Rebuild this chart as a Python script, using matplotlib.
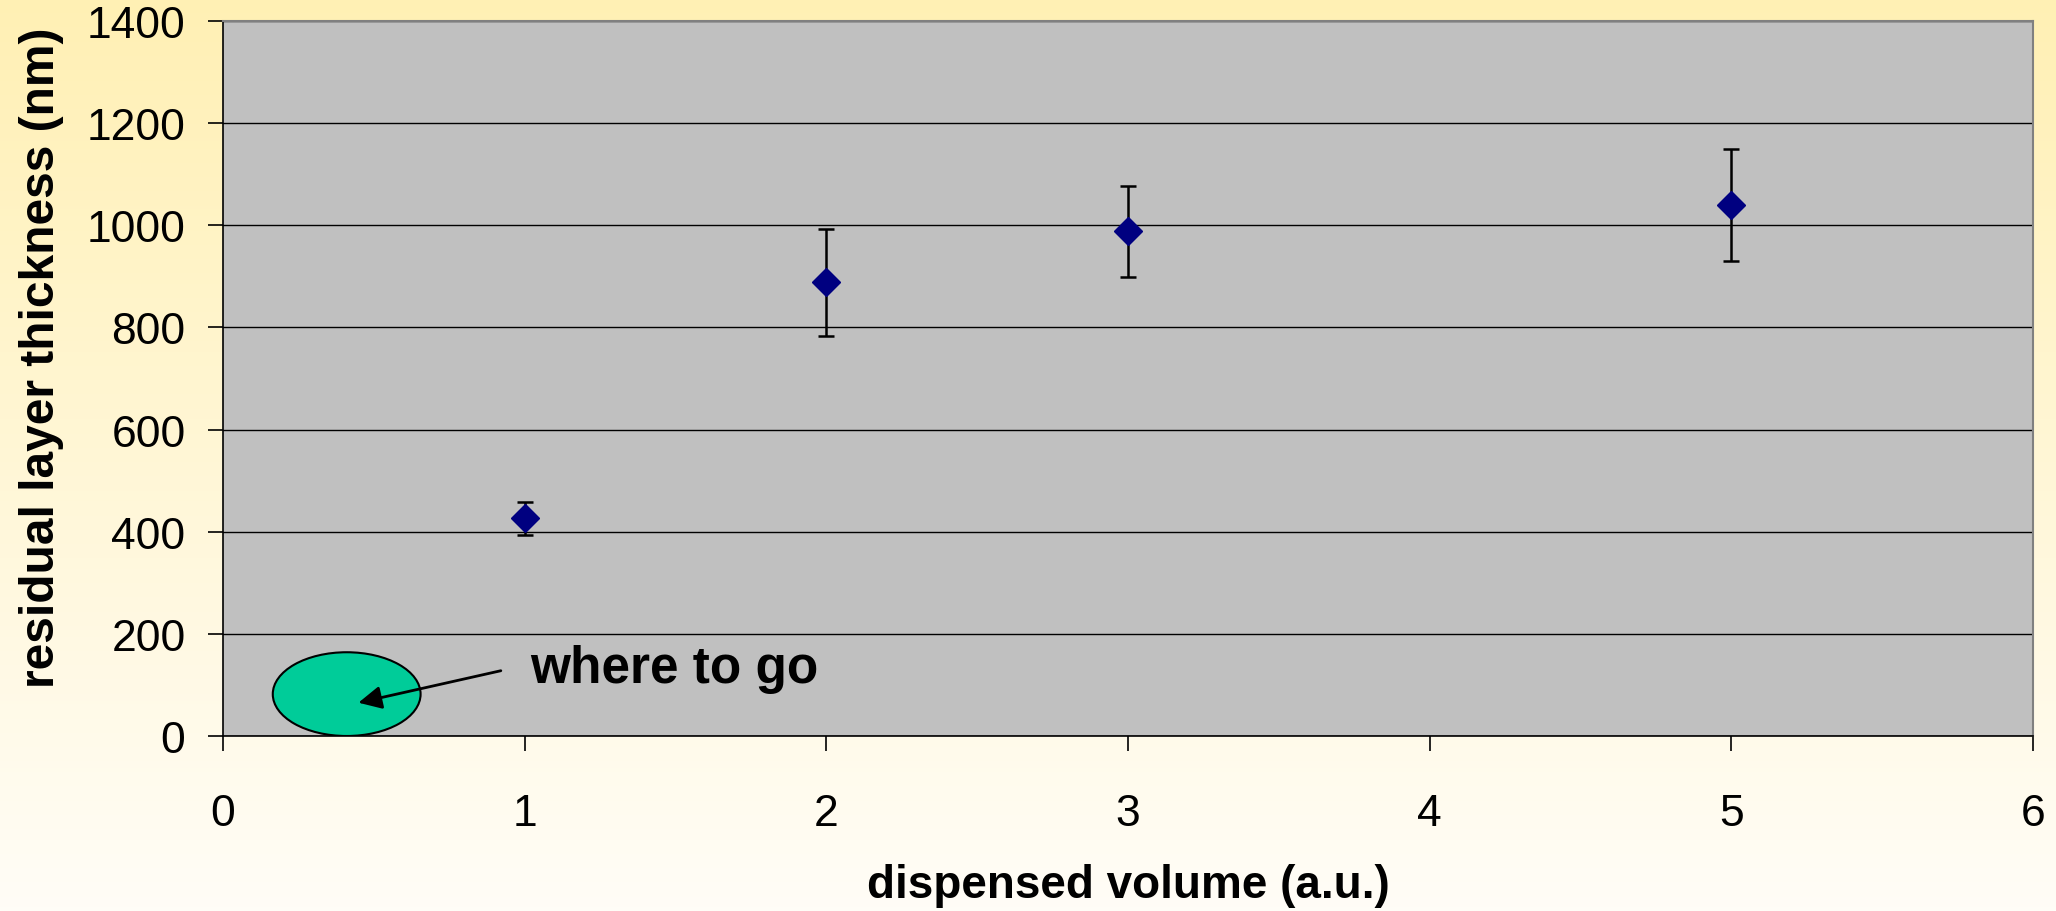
import matplotlib
matplotlib.use("Agg")
import matplotlib.pyplot as plt
import numpy as np
from matplotlib.patches import Ellipse

plt.rcParams['font.family'] = ['Liberation Sans', 'DejaVu Sans']

# data
volume = [1, 2, 3, 5]
thickness = [426, 888, 988, 1040]
thickness_err = [33, 104, 89, 109]

x_ticks = [0, 1, 2, 3, 4, 5, 6]
y_ticks = [0, 200, 400, 600, 800, 1000, 1200, 1400]

fig = plt.figure(figsize=(20.56, 9.12), dpi=100)

# yellow-to-white background gradient
bg = fig.add_axes([0, 0, 1, 1], zorder=-10)
grad = np.linspace(0, 1, 256).reshape(-1, 1)
top_c = np.array([255, 240, 180]) / 255
bot_c = np.array([255, 253, 247]) / 255
img = top_c * (1 - grad[..., None]) + bot_c * grad[..., None]
img = np.repeat(img, 2, axis=1)
bg.imshow(img, aspect='auto', extent=[0, 1, 0, 1])
bg.axis('off')

ax = fig.add_axes([223 / 2056, 175 / 912, 1810 / 2056, 715 / 912])
ax.set_facecolor('#C0C0C0')

ax.errorbar(volume, thickness, yerr=thickness_err, fmt='D', color='#000080',
            markersize=14, ecolor='black', elinewidth=1.8, capsize=6,
            capthick=1.8, zorder=3)

ax.set_xlim(0, 6)
ax.set_ylim(0, 1400)
ax.set_xticks(x_ticks)
ax.set_yticks(y_ticks)
ax.yaxis.grid(True, color='black', linewidth=1.0)
ax.set_axisbelow(True)

for s in ['top', 'right']:
    ax.spines[s].set_color('#808080')
    ax.spines[s].set_linewidth(1.5)
for s in ['left', 'bottom']:
    ax.spines[s].set_color('black')
    ax.spines[s].set_linewidth(1.2)

ax.tick_params(axis='both', direction='out', length=11, width=1.2,
               labelsize=32, colors='black')
ax.tick_params(axis='x', pad=30)
ax.tick_params(axis='y', pad=16)

ax.set_xlabel('dispensed volume (a.u.)', fontsize=33, fontweight='bold',
              va='center')
ax.xaxis.set_label_coords(0.5, -0.208)
ax.set_ylabel('residual layer thickness (nm)', fontsize=34.5,
              fontweight='bold', va='center')
ax.yaxis.set_label_coords(-0.1, 0.53)

# annotation: target region
ell = Ellipse((0.41, 82), 0.49, 164, facecolor='#00CC99', edgecolor='black',
              linewidth=1.5, zorder=4)
ax.add_patch(ell)
ax.annotate('', xy=(0.44, 64), xytext=(0.93, 129),
            arrowprops=dict(arrowstyle='-|>', color='black', lw=2,
                            mutation_scale=35), zorder=5)
ax.text(1.018, 106, 'where to go', fontsize=37, fontweight='bold',
        va='baseline', ha='left', zorder=5)

fig.savefig('out.png', dpi=100)
